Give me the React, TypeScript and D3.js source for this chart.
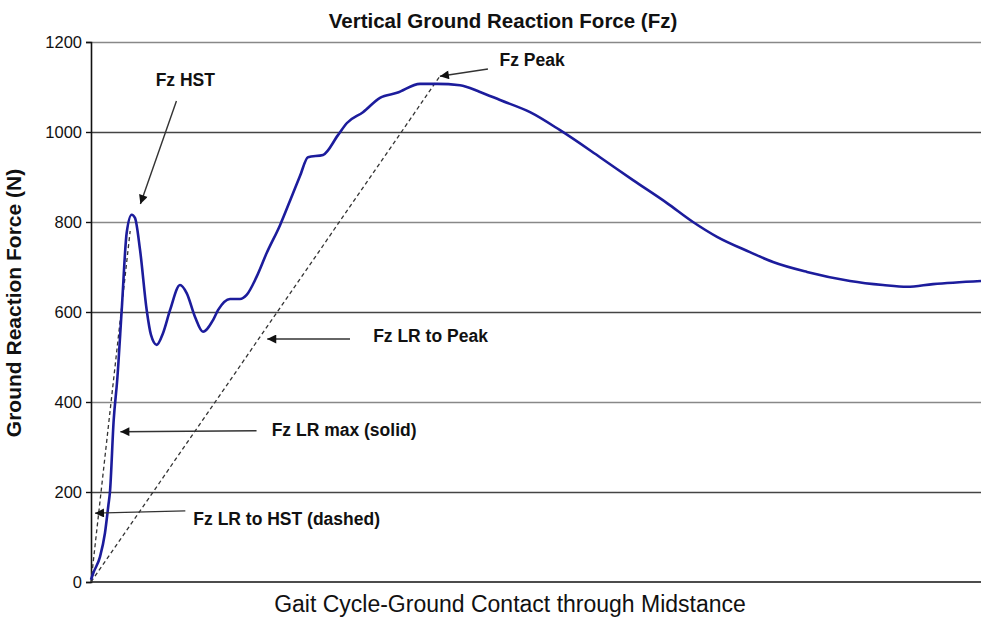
import * as d3 from "d3";
import { useEffect, useRef } from "react";

// percent of the stance window shown (ground contact -> midstance)
const stance = [
  0, 0.26, 1.01, 1.57, 1.95, 2.13, 2.55, 2.95, 3.45, 4.01, 4.57, 4.94, 5.51,
  6.26, 6.74, 7.38, 8.09, 8.88, 10.0, 10.75, 11.69, 12.58, 13.71, 14.27,
  15.62, 16.74, 17.49, 18.6, 19.74, 21.24, 22.7, 23.48, 24.38, 26.07, 27.75,
  28.76, 30.56, 32.47, 34.38, 36.97, 38.88, 41.46, 43.71, 45.96, 49.33, 52.7,
  57.19, 60.9, 64.72, 67.64, 70.34, 74.04, 76.63, 80.45, 85.28, 88.99, 91.69,
  94.61, 100,
];
const fz = [
  5, 20, 56, 109, 170, 200, 360, 450, 604, 776, 816, 809, 738, 604, 549, 527,
  553, 604, 660, 642, 589, 556, 582, 604, 629, 629, 638, 678, 731, 793, 864,
  902, 944, 949, 993, 1020, 1044, 1076, 1087, 1107, 1107, 1104, 1089, 1071,
  1044, 1004, 944, 893, 842, 800, 767, 733, 711, 689, 669, 660, 656, 662, 669,
];
const yTicks = [0, 200, 400, 600, 800, 1000, 1200];

// dashed loading-rate lines: origin -> HST, origin -> peak
const dashedLines = [
  { x: [0, 4.4], y: [0, 780] },
  { x: [0, 39.2], y: [0, 1124] },
];

// annotations: label position + arrow from/to in data units
const notes = [
  { text: "Fz HST", lx: 10.6, ly: 1115, from: [9.6, 1069], to: [5.55, 840], anchor: "middle" },
  { text: "Fz Peak", lx: 45.9, ly: 1160, from: [44.6, 1140], to: [39.2, 1124], anchor: "start" },
  { text: "Fz LR to Peak", lx: 31.7, ly: 547, from: [29.1, 540], to: [19.8, 540], anchor: "start" },
  { text: "Fz LR max (solid)", lx: 20.3, ly: 338, from: [18.6, 336], to: [3.3, 334], anchor: "start" },
  { text: "Fz LR to HST (dashed)", lx: 11.5, ly: 140, from: [10.6, 158], to: [0.45, 153], anchor: "start" },
];

const W = 981;
const H = 617;
const margin = { top: 42, right: 0, bottom: 35, left: 91 };
const FONT = "Liberation Sans, Arial, sans-serif";

export default function App() {
  const svgRef = useRef<SVGSVGElement | null>(null);

  useEffect(() => {
    if (!svgRef.current) return;
    const svg = d3.select(svgRef.current);
    svg.selectAll("*").remove();

    const innerW = W - margin.left - margin.right;
    const innerH = H - margin.top - margin.bottom;

    const x = d3.scaleLinear().domain([0, 100]).range([margin.left, margin.left + innerW]);
    const y = d3.scaleLinear().domain([0, 1200]).range([margin.top + innerH, margin.top]);

    svg
      .append("defs")
      .append("marker")
      .attr("id", "arrow")
      .attr("viewBox", "0 0 10 10")
      .attr("refX", 10)
      .attr("refY", 5)
      .attr("markerWidth", 11)
      .attr("markerHeight", 9)
      .attr("markerUnits", "userSpaceOnUse")
      .attr("orient", "auto")
      .append("path")
      .attr("d", "M0,0L10,5L0,10z")
      .attr("fill", "#111");

    // title
    svg
      .append("text")
      .attr("x", 503)
      .attr("y", 28)
      .attr("text-anchor", "middle")
      .attr("font-family", FONT)
      .attr("font-weight", "bold")
      .attr("font-size", 20.5)
      .attr("fill", "#111")
      .text("Vertical Ground Reaction Force (Fz)");

    // gridlines
    svg
      .append("g")
      .selectAll("line")
      .data(yTicks.filter((d) => d > 0))
      .join("line")
      .attr("x1", x(0))
      .attr("x2", x(100))
      .attr("y1", (d) => Math.round(y(d)) + 0.5)
      .attr("y2", (d) => Math.round(y(d)) + 0.5)
      .attr("stroke", (d, i) => (i % 2 === 0 ? "#444" : "#888"))
      .attr("stroke-width", 1.3);

    // y axis
    const yAxis = svg
      .append("g")
      .attr("transform", `translate(${x(0)},0)`)
      .call(
        d3.axisLeft(y).tickValues(yTicks).tickFormat(d3.format("d")).tickSize(5).tickPadding(4)
      );
    yAxis.select(".domain").attr("stroke", "#111").attr("stroke-width", 1.6);
    yAxis.selectAll(".tick line").attr("stroke", "#111").attr("stroke-width", 1.4);
    yAxis
      .selectAll(".tick text")
      .attr("font-family", FONT)
      .attr("font-size", 16.5)
      .attr("fill", "#111");

    // x axis baseline
    svg
      .append("line")
      .attr("x1", x(0))
      .attr("x2", x(100))
      .attr("y1", y(0))
      .attr("y2", y(0))
      .attr("stroke", "#111")
      .attr("stroke-width", 1.6);

    // axis titles
    svg
      .append("text")
      .attr("transform", `translate(21,303) rotate(-90)`)
      .attr("text-anchor", "middle")
      .attr("font-family", FONT)
      .attr("font-weight", "bold")
      .attr("font-size", 21)
      .attr("fill", "#111")
      .text("Ground Reaction Force (N)");

    svg
      .append("text")
      .attr("x", 510)
      .attr("y", 612)
      .attr("text-anchor", "middle")
      .attr("font-family", FONT)
      .attr("font-size", 23)
      .attr("fill", "#111")
      .text("Gait Cycle-Ground Contact through Midstance");

    // dashed loading rate lines
    svg
      .append("g")
      .selectAll("line")
      .data(dashedLines)
      .join("line")
      .attr("x1", (d) => x(d.x[0]))
      .attr("y1", (d) => y(d.y[0]))
      .attr("x2", (d) => x(d.x[1]))
      .attr("y2", (d) => y(d.y[1]))
      .attr("stroke", "#333")
      .attr("stroke-width", 1.3)
      .attr("stroke-dasharray", "4,3");

    // force curve
    const pts = stance.map((s, i) => [s, fz[i]] as [number, number]);
    const line = d3
      .line<[number, number]>()
      .x((d) => x(d[0]))
      .y((d) => y(d[1]))
      .curve(d3.curveMonotoneX);
    svg
      .append("path")
      .datum(pts)
      .attr("d", line)
      .attr("fill", "none")
      .attr("stroke", "#1c1c9c")
      .attr("stroke-width", 2.6)
      .attr("stroke-linejoin", "round");

    // annotations
    const ann = svg.append("g");
    ann
      .selectAll("line")
      .data(notes)
      .join("line")
      .attr("x1", (d) => x(d.from[0]))
      .attr("y1", (d) => y(d.from[1]))
      .attr("x2", (d) => x(d.to[0]))
      .attr("y2", (d) => y(d.to[1]))
      .attr("stroke", "#333")
      .attr("stroke-width", 1.4)
      .attr("marker-end", "url(#arrow)");
    ann
      .selectAll("text")
      .data(notes)
      .join("text")
      .attr("x", (d) => x(d.lx))
      .attr("y", (d) => y(d.ly))
      .attr("dy", "0.35em")
      .attr("text-anchor", (d) => d.anchor)
      .attr("font-family", FONT)
      .attr("font-weight", "bold")
      .attr("font-size", 17.5)
      .attr("fill", "#111")
      .text((d) => d.text);
  }, []);

  return (
    <svg
      ref={svgRef}
      width={W}
      height={H}
      style={{ position: "absolute", left: 0, top: 0, background: "#fff" }}
    />
  );
}
